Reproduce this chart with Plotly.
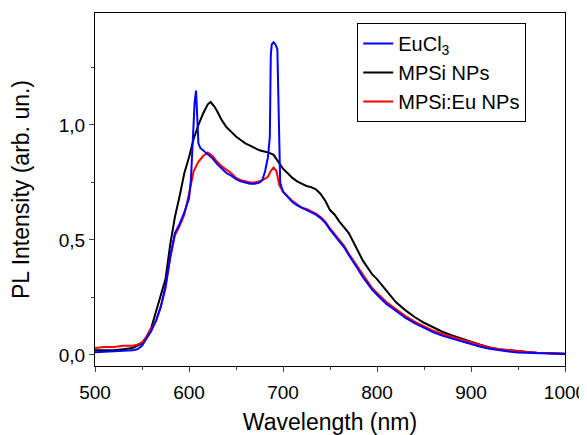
import plotly.graph_objects as go

# ---- data ----
wl_black = [500, 510, 520, 530, 540, 545, 550, 555, 560, 565, 570, 575, 580, 585, 590, 595,
            600, 605, 610, 615, 620, 623, 627, 630, 635, 640, 645, 650, 655, 660, 665, 670,
            675, 680, 685, 690, 695, 700, 705, 710, 715, 720, 725, 730, 735, 740, 745, 750,
            755, 760, 765, 770, 775, 780, 785, 790, 795, 800, 810, 820, 830, 840, 850, 860,
            870, 880, 890, 900, 910, 920, 930, 940, 950, 960, 970, 980, 990, 1000]
int_black = [0.02, 0.02, 0.02, 0.025, 0.03, 0.04, 0.05, 0.08, 0.12, 0.19, 0.26, 0.33, 0.48, 0.60, 0.69, 0.79,
             0.86, 0.94, 1.00, 1.05, 1.09, 1.10, 1.08, 1.06, 1.02, 0.99, 0.97, 0.95, 0.935, 0.92, 0.91, 0.90,
             0.89, 0.885, 0.88, 0.87, 0.84, 0.81, 0.79, 0.77, 0.755, 0.745, 0.735, 0.73, 0.72, 0.70, 0.67, 0.63,
             0.61, 0.58, 0.555, 0.53, 0.49, 0.45, 0.41, 0.38, 0.35, 0.33, 0.28, 0.23, 0.195, 0.165, 0.14, 0.12,
             0.10, 0.085, 0.07, 0.058, 0.045, 0.033, 0.025, 0.02, 0.016, 0.013, 0.01, 0.008, 0.006, 0.005]

wl_red = [500, 510, 520, 530, 540, 545, 550, 555, 560, 565, 570, 575, 580, 585, 590, 595,
          600, 605, 610, 615, 620, 625, 630, 635, 640, 645, 650, 655, 660, 665, 670, 675,
          680, 684, 687, 690, 693, 696, 700, 705, 710, 715, 720, 725, 730, 735, 740, 745,
          750, 755, 760, 765, 770, 775, 780, 785, 790, 795, 800, 810, 820, 830, 840, 850,
          860, 870, 880, 890, 900, 910, 920, 930, 940, 950, 960, 970, 980, 990, 1000]
int_red = [0.03, 0.035, 0.035, 0.04, 0.04, 0.045, 0.055, 0.08, 0.115, 0.15, 0.21, 0.29, 0.42, 0.52, 0.56, 0.61,
           0.70, 0.80, 0.84, 0.865, 0.88, 0.865, 0.84, 0.82, 0.805, 0.79, 0.77, 0.76, 0.755, 0.75, 0.75, 0.755,
           0.765, 0.775, 0.80, 0.815, 0.80, 0.74, 0.71, 0.69, 0.67, 0.655, 0.64, 0.635, 0.625, 0.615, 0.60, 0.58,
           0.55, 0.525, 0.50, 0.475, 0.44, 0.41, 0.38, 0.345, 0.315, 0.29, 0.27, 0.23, 0.20, 0.17, 0.145, 0.125,
           0.105, 0.09, 0.078, 0.065, 0.053, 0.042, 0.032, 0.025, 0.02, 0.016, 0.013, 0.01, 0.008, 0.006, 0.005]

wl_blue = [500, 510, 520, 530, 540, 545, 550, 555, 560, 565, 570, 575, 580, 585, 590, 595,
           600, 602, 604, 606, 607.5, 609, 610, 612, 615, 620, 625, 630, 635, 640, 645, 650,
           655, 660, 665, 670, 675, 678, 681, 684, 686, 687, 688, 690, 692, 694, 695, 696,
           697, 700, 705, 710, 715, 720, 725, 730, 735, 740, 745, 750, 755, 760, 765, 770,
           775, 780, 785, 790, 795, 800, 810, 820, 830, 840, 850, 860, 870, 880, 890, 900,
           910, 920, 930, 940, 950, 960, 970, 980, 990, 1000]
int_blue = [0.012, 0.015, 0.015, 0.018, 0.02, 0.025, 0.04, 0.07, 0.105, 0.15, 0.21, 0.30, 0.43, 0.53, 0.57, 0.62,
            0.68, 0.76, 0.95, 1.10, 1.15, 1.02, 0.92, 0.90, 0.89, 0.875, 0.855, 0.83, 0.81, 0.79, 0.78, 0.765,
            0.755, 0.75, 0.745, 0.745, 0.75, 0.76, 0.80, 0.86, 0.95, 1.30, 1.35, 1.36, 1.35, 1.33, 1.15, 0.85,
            0.75, 0.71, 0.685, 0.665, 0.65, 0.64, 0.63, 0.62, 0.61, 0.595, 0.575, 0.545, 0.52, 0.495, 0.468, 0.435,
            0.405, 0.372, 0.338, 0.308, 0.283, 0.262, 0.222, 0.192, 0.162, 0.138, 0.118, 0.098, 0.083, 0.071, 0.058, 0.047,
            0.036, 0.027, 0.02, 0.015, 0.011, 0.009, 0.007, 0.006, 0.005, 0.004]

y_tickvals = [0.0, 0.5, 1.0]
y_ticktext = ["0,0", "0,5", "1,0"]
x_tickvals = [500, 600, 700, 800, 900, 1000]

FONT = "Liberation Sans, Arial, sans-serif"

fig = go.Figure()
fig.add_trace(go.Scatter(x=wl_black, y=int_black, mode="lines", name="MPSi NPs",
                         line=dict(color="black", width=2)))
fig.add_trace(go.Scatter(x=wl_red, y=int_red, mode="lines", name="MPSi:Eu NPs",
                         line=dict(color="red", width=2)))
fig.add_trace(go.Scatter(x=wl_blue, y=int_blue, mode="lines", name="EuCl<sub>3</sub>",
                         line=dict(color="blue", width=2)))

# page body adds an 8px offset, so the figure is 8px smaller than the window
fig.update_layout(
    width=579, height=427,
    margin=dict(l=87, r=22, t=5, b=69, autoexpand=False),
    plot_bgcolor="white", paper_bgcolor="white",
    font=dict(family=FONT, color="black", size=19),
    showlegend=True,
    legend=dict(x=0.558, y=0.9717, xanchor="left", yanchor="top",
                bordercolor="black", borderwidth=1, bgcolor="white",
                font=dict(size=20), traceorder="normal",
                itemwidth=30),
    xaxis=dict(range=[500, 1000], tickvals=x_tickvals, ticks="outside", ticklen=5,
               showline=True, linecolor="black", linewidth=1, mirror=True,
               showgrid=False, zeroline=False, automargin=False,
               ticklabeloverflow="allow", ticklabelstandoff=4,
               minor=dict(dtick=50, tick0=500, ticks="outside", ticklen=3),
               title=dict(text="Wavelength (nm)", font=dict(size=23), standoff=15)),
    yaxis=dict(range=[-0.048, 1.487], tickvals=y_tickvals, ticktext=y_ticktext,
               ticks="outside", ticklen=5,
               showline=True, linecolor="black", linewidth=1, mirror=True,
               showgrid=False, zeroline=False, automargin=False,
               minor=dict(tickvals=[0.25, 0.75, 1.25], ticks="outside", ticklen=3),
               title=dict(text="PL Intensity (arb. un.)", font=dict(size=23), standoff=23)),
)
# legend order: EuCl3, MPSi NPs, MPSi:Eu NPs
fig.data[2].legendrank = 1
fig.data[0].legendrank = 2
fig.data[1].legendrank = 3

fig.write_html("out.html")
